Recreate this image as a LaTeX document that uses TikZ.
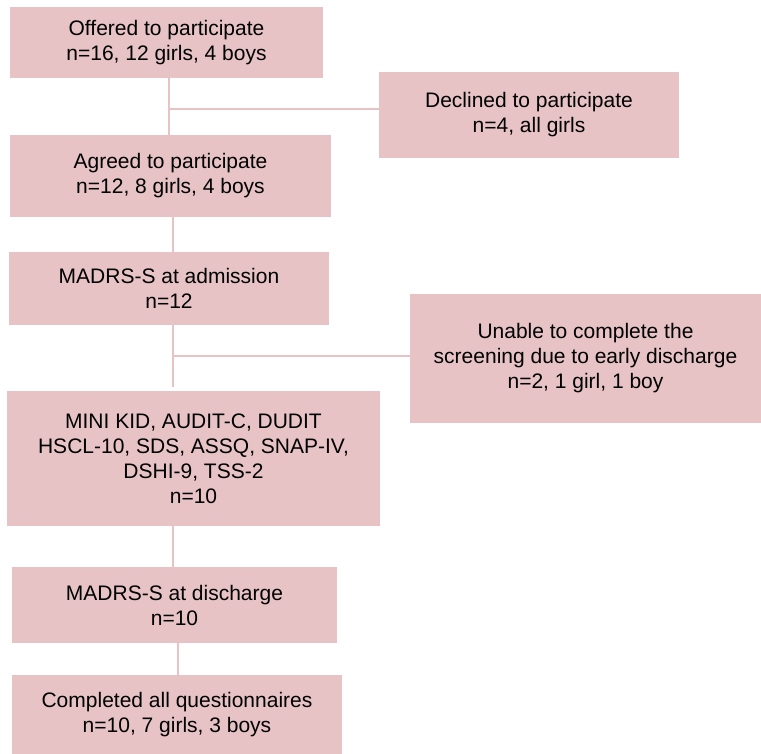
\documentclass[tikz,border=0pt]{standalone}
\usepackage{fontspec}
\setmainfont{Liberation Sans}
\definecolor{boxpink}{HTML}{E8C3C6}

\begin{document}
\begin{tikzpicture}[x=1pt, y=-1pt, line join=miter,
    box/.style={fill=boxpink, inner sep=0pt, align=center, font=\fontsize{21}{25}\selectfont},
    link/.style={draw=boxpink, line width=2pt}] % main flow on the left

  \useasboundingbox (0,0) rectangle (761,754);

  \node[box, minimum width=313pt, minimum height=71pt]  (offered)   at (166.5,42.5) {Offered to participate\\n=16, 12 girls, 4 boys};
  \node[box, minimum width=300pt, minimum height=86pt]  (declined)  at (529,115)    {Declined to participate\\n=4, all girls};
  \node[box, minimum width=321pt, minimum height=82pt]  (agreed)    at (170.5,176)  {Agreed to participate\\n=12, 8 girls, 4 boys};
  \node[box, minimum width=320pt, minimum height=73pt]  (admission) at (169,288.5)  {MADRS-S at admission\\n=12};
  \node[box, minimum width=351pt, minimum height=129pt] (unable)    at (585.5,358.5) {Unable to complete the\\screening due to early discharge\\n=2, 1 girl, 1 boy};
  \node[box, minimum width=373pt, minimum height=135pt] (mini)      at (193.5,458.5) {MINI KID, AUDIT-C, DUDIT\\HSCL-10, SDS, ASSQ, SNAP-IV,\\DSHI-9, TSS-2\\n=10};
  \node[box, minimum width=325pt, minimum height=76pt]  (discharge) at (174.5,605)  {MADRS-S at discharge\\n=10};
  \node[box, minimum width=330pt, minimum height=79pt]  (completed) at (177,714.5)  {Completed all questionnaires\\n=10, 7 girls, 3 boys};

  \coordinate (split1) at (169,109);
  \coordinate (split2) at (173,356);

  \draw[link] (offered.south -| split1) -- (agreed.north -| split1);
  \draw[link] (split1) -- (split1 -| declined.west);
  \draw[link] (agreed.south -| split2) -- (admission.north -| split2);
  \draw[link] (admission.south -| split2) -- ([yshift=4pt]mini.north -| split2);
  \draw[link] (split2) -- (split2 -| unable.west);
  \draw[link] (mini.south -| split2) -- (discharge.north -| split2);
  \draw[link] (discharge.south -| completed.north) ++(1,0) -- ([xshift=1pt]completed.north);
\end{tikzpicture}
\end{document}
